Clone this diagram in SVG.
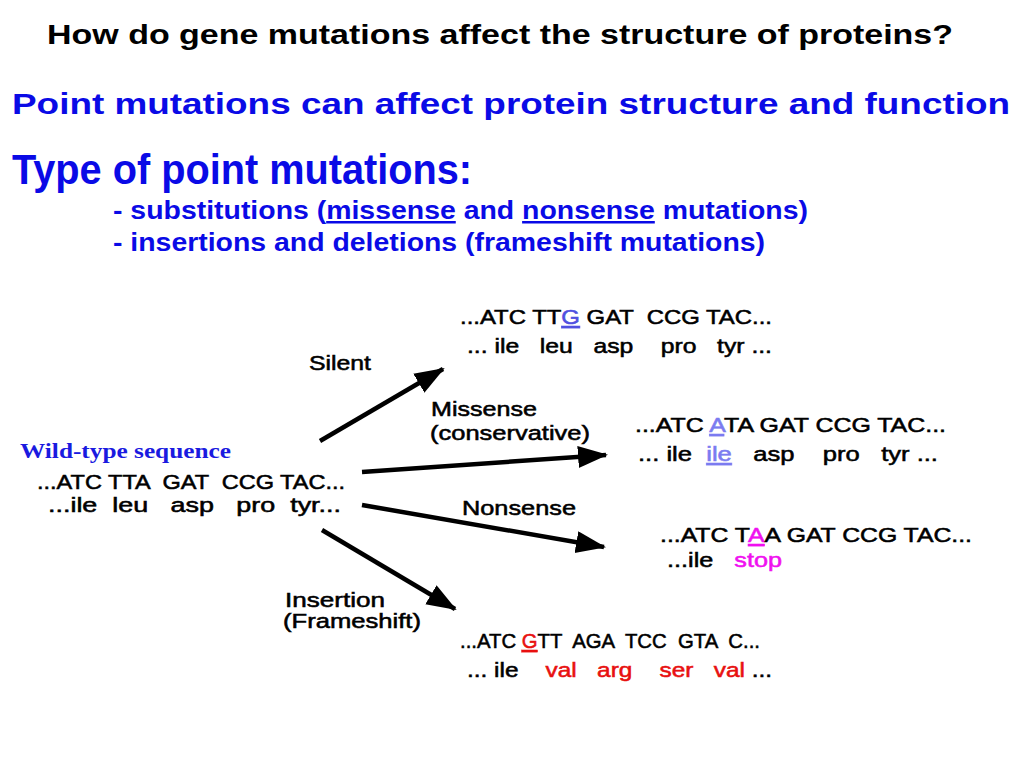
<svg xmlns="http://www.w3.org/2000/svg" width="1024" height="768" viewBox="0 0 1024 768">
<defs>
<style>
.h{font-family:"Liberation Sans",Arial,sans-serif;font-weight:bold}
.blue{fill:#0a0ae6}
.s{font-family:"Liberation Sans",Arial,sans-serif;font-size:21px;fill:#000;stroke:#000;stroke-width:0.55px}
.u{text-decoration:underline}
.arr{stroke:#000;stroke-width:4.5;fill:none;marker-end:url(#ah)}
</style>
<marker id="ah" markerUnits="userSpaceOnUse" markerWidth="34" markerHeight="26" refX="28" refY="11" orient="auto">
<path d="M0,0 L30,11 L0,22 Z" fill="#000"/>
</marker>
</defs>
<rect width="1024" height="768" fill="#fff"/>
<g id="titles">
<text class="h" x="47" y="44" font-size="28" textLength="906" lengthAdjust="spacingAndGlyphs">How do gene mutations affect the structure of proteins?</text>
<text class="h blue" x="12" y="114" font-size="29" textLength="998" lengthAdjust="spacingAndGlyphs">Point mutations can affect protein structure and function</text>
<text class="h blue" x="12" y="184" font-size="42" textLength="460" lengthAdjust="spacingAndGlyphs">Type of point mutations:</text>
<text class="h blue" x="113" y="219" font-size="25" textLength="695" lengthAdjust="spacingAndGlyphs">- substitutions (<tspan class="u">missense</tspan> and <tspan class="u">nonsense</tspan> mutations)</text>
<text class="h blue" x="113" y="251" font-size="25" textLength="652" lengthAdjust="spacingAndGlyphs">- insertions and deletions (frameshift mutations)</text>
</g>
<g id="connectors">
<line class="arr" x1="320" y1="441" x2="443" y2="369"/>
<line class="arr" x1="362" y1="472" x2="606" y2="455"/>
<line class="arr" x1="362" y1="505" x2="604" y2="547"/>
<line class="arr" x1="322" y1="530" x2="455" y2="609"/>
</g>
<g id="wildtype">
<text x="20" y="458" font-family="Liberation Serif,Times New Roman,serif" font-weight="bold" font-size="20" fill="#1a1ae0" textLength="211" lengthAdjust="spacingAndGlyphs">Wild-type sequence</text>
<text class="s" x="37" y="489" textLength="308" lengthAdjust="spacingAndGlyphs" xml:space="preserve">...ATC TTA  GAT  CCG TAC...</text>
<text class="s" x="48" y="512" textLength="293" lengthAdjust="spacingAndGlyphs" xml:space="preserve">...ile  leu   asp   pro  tyr...</text>
</g>
<g id="silent">
<text class="s" x="309" y="370" textLength="62" lengthAdjust="spacingAndGlyphs">Silent</text>
<text class="s" x="460" y="324" textLength="312" lengthAdjust="spacingAndGlyphs" xml:space="preserve">...ATC TT<tspan class="u" fill="#5050e0" stroke="#5050e0">G</tspan> GAT  CCG TAC...</text>
<text class="s" x="467" y="353" textLength="305" lengthAdjust="spacingAndGlyphs" xml:space="preserve">... ile   leu   asp    pro   tyr ...</text>
</g>
<g id="missense">
<text class="s" x="431" y="416" textLength="106" lengthAdjust="spacingAndGlyphs">Missense</text>
<text class="s" x="430" y="440" textLength="160" lengthAdjust="spacingAndGlyphs">(conservative)</text>
<text class="s" x="635" y="432" textLength="311" lengthAdjust="spacingAndGlyphs" xml:space="preserve">...ATC <tspan class="u" fill="#7b7bf0" stroke="#7b7bf0">A</tspan>TA GAT CCG TAC...</text>
<text class="s" x="638" y="461" textLength="300" lengthAdjust="spacingAndGlyphs" xml:space="preserve">... ile  <tspan class="u" fill="#7b7bf0" stroke="#7b7bf0">ile</tspan>   asp    pro   tyr ...</text>
</g>
<g id="nonsense">
<text class="s" x="462" y="515" textLength="114" lengthAdjust="spacingAndGlyphs">Nonsense</text>
<text class="s" x="660" y="542" textLength="312" lengthAdjust="spacingAndGlyphs" xml:space="preserve">...ATC T<tspan class="u" fill="#f010f0" stroke="#f010f0">A</tspan>A GAT CCG TAC...</text>
<text class="s" x="667" y="567" textLength="115" lengthAdjust="spacingAndGlyphs" xml:space="preserve">...ile   <tspan fill="#f010f0" stroke="#f010f0">stop</tspan></text>
</g>
<g id="insertion">
<text class="s" x="285" y="607" textLength="100" lengthAdjust="spacingAndGlyphs">Insertion</text>
<text class="s" x="283" y="628" textLength="138" lengthAdjust="spacingAndGlyphs">(Frameshift)</text>
<text class="s" x="460" y="648" textLength="300" lengthAdjust="spacingAndGlyphs" xml:space="preserve">...ATC <tspan class="u" fill="#e81010" stroke="#e81010">G</tspan>TT  AGA  TCC  GTA  C...</text>
<text class="s" x="467" y="677" textLength="305" lengthAdjust="spacingAndGlyphs" xml:space="preserve">... ile    <tspan fill="#e81010" stroke="#e81010">val   arg    ser   val</tspan> ...</text>
</g>
</svg>
